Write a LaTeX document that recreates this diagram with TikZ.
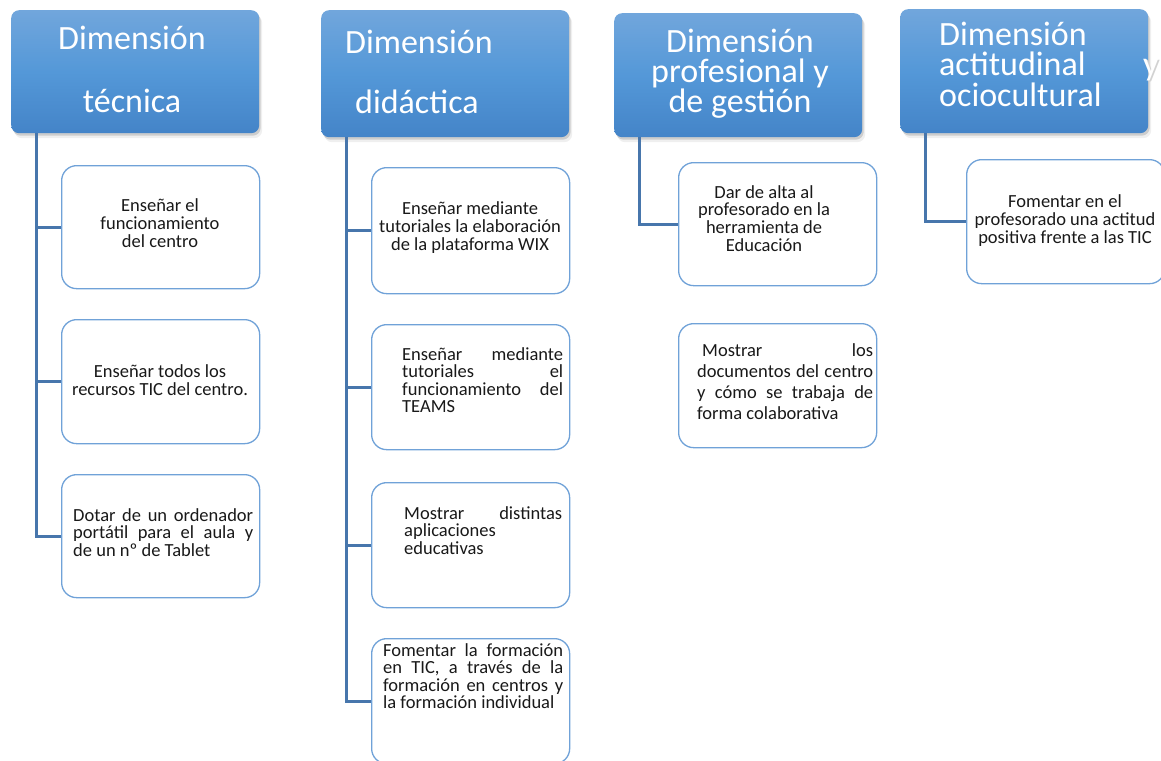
\documentclass[tikz,border=0pt]{standalone}
\usepackage{fontspec}
\setmainfont{Carlito}
\usetikzlibrary{shadows}
\definecolor{hdrtop}{RGB}{113,166,220}
\definecolor{hdrmid}{RGB}{84,152,216}
\definecolor{hdrbot}{RGB}{68,132,200}
\definecolor{leafblue}{RGB}{112,162,216}
\definecolor{connblue}{RGB}{71,118,172}
\definecolor{txtgray}{RGB}{25,25,25}
\newcommand\hdrfont{\fontsize{34}{30}\selectfont}
\newcommand\hdrfontb{\fontsize{34}{30.5}\selectfont}
\newcommand\leaffont{\fontsize{18.5}{17.6}\selectfont}
\newcommand\leaffontwide{\fontsize{18.5}{21.3}\selectfont}
\tikzset{
  hdr/.style={rounded corners=8pt, top color=hdrtop, bottom color=hdrbot, middle color=hdrmid,
    minimum width=248pt, minimum height=123pt, anchor=north west, inner sep=0pt,
    drop shadow={shadow xshift=1.5pt, shadow yshift=-2.5pt, opacity=0.30},
    drop shadow={shadow xshift=3pt, shadow yshift=-5pt, opacity=0.12}},
  htext/.style={text=white, font=\hdrfont, inner sep=0pt},
  leaf/.style={draw=leafblue, line width=1.3pt, rounded corners=15pt, fill=white,
    minimum width=198pt, minimum height=124pt, anchor=north west, inner sep=0pt},
  ctext/.style={font=\leaffont, inner sep=0pt, text=txtgray, align=center, anchor=base},
  jtext/.style={font=\leaffont, inner sep=0pt, text=txtgray, align=justify, anchor=base west},
  conn/.style={draw=connblue, line width=3pt},
}
\begin{document}
\begin{tikzpicture}[x=1pt, y=-1pt]
\useasboundingbox (0,0) rectangle (1161,760);
\fill[white] (0,0) rectangle (1161,760);

% headers
\node[hdr] (h1) at (11,10) {};
\node[hdr, minimum height=127pt] (h2) at (321,10) {};
\node[hdr, minimum height=124pt] (h3) at (614,13) {};
\node[hdr, minimum height=124pt] (h4) at (900,9) {};

% header texts (multi-line nodes: base anchor = last line)
\node[htext, anchor=base] (h1a) at (132,50) {Dimensión};
\node[htext, anchor=base] (h1b) at (132,112) {técnica};
\node[htext, anchor=base west] (h2a) at (345,53) {Dimensión};
\node[htext, anchor=base west] (h2b) at (355,113) {didáctica};
\node[htext, anchor=base, align=center] (h3t) at (740,112) {Dimensión\\profesional y\\de gestión};
\node[htext, anchor=base west, align=left, font=\hdrfontb] (h4t) at (939,106) {Dimensión\\actitudinal\\ociocultural};
\node[htext, anchor=base west, text=gray!35] (h4ys) at (1144.5,76) {y};
\node[htext, anchor=base west] (h4y) at (1143,75) {y};

% leaf boxes
\node[leaf, minimum height=123pt] (c11) at (61,165) {};
\node[leaf] (c12) at (61,319) {};
\node[leaf, minimum height=123pt] (c13) at (61,474) {};
\node[leaf, minimum height=126pt] (c21) at (371,167) {};
\node[leaf, minimum height=125pt] (c22) at (371,324) {};
\node[leaf, minimum height=125pt] (c23) at (371,482) {};
\node[leaf, minimum height=125pt] (c24) at (371,638) {};
\node[leaf, minimum height=123pt] (c31) at (678,162) {};
\node[leaf] (c32) at (678,323) {};
\node[leaf] (c41) at (966,159) {};

% connectors
\coordinate (r1) at ([xshift=25pt]h1.south west);
\coordinate (r2) at ([xshift=25pt]h2.south west);
\coordinate (r3) at ([xshift=25pt]h3.south west);
\coordinate (r4) at ([xshift=25pt]h4.south west);
\draw[conn] (r1) |- (c11.west);
\draw[conn] (r1) |- (c12.west);
\draw[conn] (r1) |- (c13.west);
\draw[conn] (r2) |- (c21.west);
\draw[conn] (r2) |- (c22.west);
\draw[conn] (r2) |- (c23.west);
\draw[conn] (r2) |- (c24.west);
\draw[conn] (r3) |- (c31.west);
\draw[conn] (r4) |- (c41.west);

% leaf texts (centred ones anchored at last baseline)
\node[ctext] (t11) at (160,247) {Enseñar el\\funcionamiento\\del centro};
\node[ctext] (t12) at (160,395) {Enseñar todos los\\recursos TIC del centro.};
\node[jtext, text width=180pt] (t13) at (73,521) {Dotar de un ordenador\linebreak portátil para el aula y\linebreak de un nº de Tablet};
\node[ctext] (t21) at (470,250) {Enseñar mediante\\tutoriales la elaboración\\de la plataforma WIX};
\node[jtext, text width=161pt] (t22) at (402,360) {Enseñar mediante\linebreak tutoriales el\linebreak funcionamiento del\linebreak TEAMS};
\node[jtext, text width=158pt] (t23) at (404,519) {Mostrar distintas\linebreak aplicaciones\linebreak educativas};
\node[jtext, text width=180pt] (t24) at (383,656) {Fomentar la formación\linebreak en TIC, a través de la\linebreak formación en centros y\linebreak la formación individual};
\node[ctext] (t31) at (764,251) {Dar de alta al\\profesorado en la\\herramienta de\\Educación};
\node[jtext, text width=176pt, font=\leaffontwide] (t32) at (697,356) {\hspace*{5pt}Mostrar los\linebreak documentos del centro\linebreak y cómo se trabaja de\linebreak forma colaborativa};
\node[ctext] (t41) at (1065,243) {Fomentar en el\\profesorado una actitud\\positiva frente a las TIC};
\end{tikzpicture}
\end{document}
